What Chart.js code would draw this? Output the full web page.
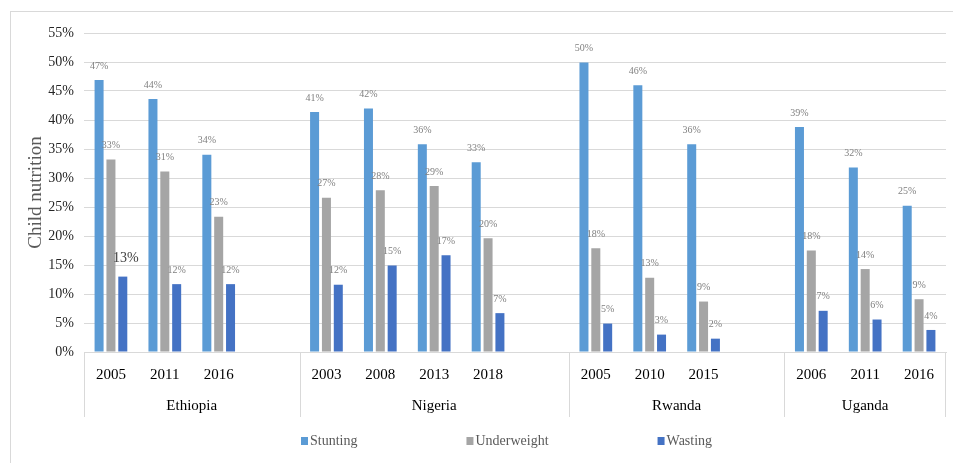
<!DOCTYPE html>
<html>
<head>
<meta charset="utf-8">
<title>Child nutrition</title>
<script src="https://cdn.jsdelivr.net/npm/chart.js@4.4.1/dist/chart.umd.min.js"></script>
<style>
    html, body { margin: 0; padding: 0; background: #fff; }
    #wrap { position: relative; width: 953px; height: 463px; }
</style>
</head>
<body>
<div id="wrap"><canvas id="nutritionChart"></canvas></div>
<script>
// categories: one slot per survey year, an empty slot after each country
const years = ['2005', '2011', '2016', '', '2003', '2008', '2013', '2018', '', '2005', '2010', '2015', '', '2006', '2011', '2016'];
const countries = ['Ethiopia', 'Nigeria', 'Rwanda', 'Uganda'];
const countrySlots = [4, 5, 4, 3];

// series (% of children)
const stunting    = [46.9, 43.6, 34.0, null, 41.4, 42.0, 35.8, 32.7, null, 49.9, 46.0, 35.8, null, 38.8, 31.8, 25.2];
const underweight = [33.2, 31.1, 23.3, null, 26.6, 27.9, 28.6, 19.6, null, 17.9, 12.8, 8.7, null, 17.5, 14.3, 9.1];
const wasting     = [13.0, 11.7, 11.7, null, 11.6, 14.9, 16.7, 6.7, null, 4.9, 3.0, 2.3, null, 7.1, 5.6, 3.8];

const seriesNames = ['Stunting', 'Underweight', 'Wasting'];
const seriesColors = ['#5B9BD5', '#A5A5A5', '#4472C4'];

// y axis ticks 0% .. 55%
const yMax = 55;
const yStep = 5;

const serif = '"Liberation Serif", "Times New Roman", serif';

// the one label that is printed bigger in the original (Ethiopia 2005, wasting)
const bigLabel = { dataset: 2, index: 0 };

const extrasPlugin = {
    id: 'extras',
    beforeDraw: function(chart) {
        const ctx = chart.ctx;
        ctx.save();
        ctx.strokeStyle = '#d9d9d9';
        ctx.lineWidth = 1;
        ctx.strokeRect(10.5, 11.5, 1000, 500);
        ctx.restore();
    },
    afterDraw: function(chart) {
        const ctx = chart.ctx;
        const area = chart.chartArea;
        const xScale = chart.scales.x;
        const slot = (area.right - area.left) / years.length;

        ctx.save();

        // value labels above the bars
        chart.data.datasets.forEach(function(ds, di) {
            const meta = chart.getDatasetMeta(di);
            meta.data.forEach(function(bar, i) {
                if (ds.data[i] === null) return;
                const big = di === bigLabel.dataset && i === bigLabel.index;
                ctx.font = (big ? '14px ' : '10px ') + serif;
                ctx.fillStyle = big ? '#404040' : '#808080';
                ctx.textAlign = 'center';
                ctx.textBaseline = 'bottom';
                ctx.fillText(Math.round(ds.data[i]) + '%', bar.x + (big ? 3 : 0), bar.y - (big ? 11 : 9));
            });
        });

        // country row and separators under the years
        ctx.strokeStyle = '#d9d9d9';
        ctx.lineWidth = 1;
        let start = 0;
        countries.forEach(function(name, ci) {
            const end = start + countrySlots[ci];
            const x0 = xScale.getPixelForValue(start) - slot / 2;
            const x1 = xScale.getPixelForValue(end - 1) + slot / 2;
            ctx.beginPath();
            ctx.moveTo(Math.round(x0) + 0.5, area.bottom);
            ctx.lineTo(Math.round(x0) + 0.5, area.bottom + 65);
            if (ci === countries.length - 1) {
                ctx.moveTo(Math.round(x1) - 0.5, area.bottom);
                ctx.lineTo(Math.round(x1) - 0.5, area.bottom + 65);
            }
            ctx.stroke();
            ctx.font = '15px ' + serif;
            ctx.fillStyle = '#000';
            ctx.textAlign = 'center';
            ctx.textBaseline = 'middle';
            ctx.fillText(name, (x0 + x1) / 2, area.bottom + 54);
            start = end;
        });

        // legend
        ctx.font = '14px ' + serif;
        ctx.textBaseline = 'middle';
        ctx.textAlign = 'left';
        let lx = 301;
        const ly = 441;
        seriesNames.forEach(function(name, si) {
            ctx.fillStyle = seriesColors[si];
            ctx.fillRect(lx, ly - 4, 7, 8);
            ctx.fillStyle = '#595959';
            ctx.fillText(name, lx + 9, ly);
            lx += 9 + ctx.measureText(name).width + 109;
        });

        ctx.restore();
    }
};

const datasets = [stunting, underweight, wasting].map(function(values, i) {
    return {
        label: seriesNames[i],
        data: values,
        backgroundColor: seriesColors[i],
        borderWidth: 0,
        categoryPercentage: 0.66,
        barPercentage: 0.76
    };
});

new Chart(document.getElementById('nutritionChart').getContext('2d'), {
    type: 'bar',
    data: {
        labels: years,
        datasets: datasets
    },
    options: {
        responsive: true,
        maintainAspectRatio: false,
        animation: false,
        layout: {
            padding: { top: 33, right: 7, bottom: 45, left: 0 }
        },
        plugins: {
            legend: { display: false },
            tooltip: { enabled: false }
        },
        scales: {
            x: {
                grid: { display: false },
                border: { display: true, color: '#d9d9d9' },
                ticks: {
                    autoSkip: false,
                    maxRotation: 0,
                    padding: 6,
                    color: '#000',
                    font: { family: serif, size: 15 }
                },
                afterFit: function(scale) {
                    scale.height = 66;
                }
            },
            y: {
                min: 0,
                max: yMax,
                grid: { color: '#d9d9d9', drawTicks: false },
                border: { display: false },
                ticks: {
                    stepSize: yStep,
                    padding: 10,
                    color: '#262626',
                    font: { family: serif, size: 14 },
                    callback: function(value) {
                        return value + '%';
                    }
                },
                title: {
                    display: true,
                    text: 'Child nutrition',
                    color: '#595959',
                    font: { family: serif, size: 19 },
                    padding: { top: 25, bottom: 0 }
                },
                afterFit: function(scale) {
                    scale.width = 84;
                }
            }
        }
    },
    plugins: [extrasPlugin]
});
</script>
</body>
</html>
